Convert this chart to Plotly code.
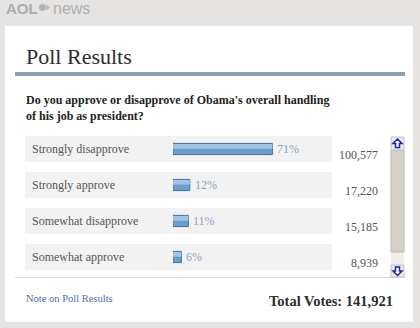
import plotly.graph_objects as go

# Poll data
choices = ["Strongly disapprove", "Strongly approve", "Somewhat disapprove", "Somewhat approve"]
percents = [71, 12, 11, 6]
votes = [100577, 17220, 15185, 8939]
question = "Do you approve or disapprove of Obama's overall handling<br>of his job as president?"

W, H = 420, 328
SERIF = "Liberation Serif, Times New Roman, serif"


def px(x):
    return x / W


def py(y):
    return 1 - y / H


rows = list(range(len(choices)))

fig = go.Figure()

# Main bar, then a lighter band across its upper half for the glossy look
fig.add_trace(go.Bar(
    x=percents, y=rows, orientation="h", width=0.31,
    marker=dict(color="#6a9ecf", line=dict(color="#41709f", width=1)),
    hoverinfo="skip",
))
fig.add_trace(go.Bar(
    x=percents, y=rows, orientation="h", width=0.13, offset=-0.14,
    marker=dict(color="#a2c4e4", line=dict(width=0)),
    hoverinfo="skip",
))

shapes = []
# page background panel
shapes.append(dict(type="rect", xref="paper", yref="paper", x0=px(5), x1=px(413),
                   y0=py(322), y1=py(26), fillcolor="white", line=dict(width=0), layer="below"))
# heading rule
shapes.append(dict(type="rect", xref="paper", yref="paper", x0=px(15), x1=px(405),
                   y0=py(76), y1=py(72), fillcolor="#8a9eb0", line=dict(width=0), layer="below"))
# row backgrounds
for i in rows:
    shapes.append(dict(type="rect", xref="paper", yref="y", x0=px(25), x1=px(332),
                       y0=i - 13 / 36, y1=i + 13 / 36, fillcolor="#f2f2f2",
                       line=dict(width=0), layer="below"))
# footer separator
shapes.append(dict(type="line", xref="paper", yref="paper", x0=px(15), x1=px(405),
                   y0=py(277.5), y1=py(277.5), line=dict(color="#dcdcdc", width=1)))

# scrollbar
sx0, sx1 = 391, 404
shapes.append(dict(type="rect", xref="paper", yref="paper", x0=px(sx0), x1=px(sx1),
                   y0=py(277), y1=py(137), fillcolor="#efeee9", line=dict(width=0)))
shapes.append(dict(type="rect", xref="paper", yref="paper", x0=px(sx0), x1=px(sx1),
                   y0=py(252), y1=py(150), fillcolor="#d4d0c8",
                   line=dict(color="#bdb9b0", width=1)))
for top, bot in [(137, 150), (265, 277)]:
    shapes.append(dict(type="rect", xref="paper", yref="paper", x0=px(sx0), x1=px(sx1),
                       y0=py(bot), y1=py(top), fillcolor="#ece9e2",
                       line=dict(color="#c8c4bb", width=1)))


def arrow_path(cx, cy, up=True):
    s = 1 if up else -1
    pts = [(cx, cy - 4.5 * s), (cx + 4.5, cy), (cx + 2, cy), (cx + 2, cy + 4 * s),
           (cx - 2, cy + 4 * s), (cx - 2, cy), (cx - 4.5, cy)]
    d = "M " + " L ".join(f"{px(x):.5f},{py(y):.5f}" for x, y in pts) + " Z"
    return d


shapes.append(dict(type="path", xref="paper", yref="paper", path=arrow_path(397.5, 143.5, True),
                   fillcolor="white", line=dict(color="#1c22c8", width=1.5)))
shapes.append(dict(type="path", xref="paper", yref="paper", path=arrow_path(397.5, 271, False),
                   fillcolor="white", line=dict(color="#1c22c8", width=1.5)))

# logo mark between the two words
shapes.append(dict(type="circle", xref="paper", yref="paper", x0=px(39), x1=px(46),
                   y0=py(11), y1=py(4), fillcolor="#b4b4b4", line=dict(width=0)))
shapes.append(dict(type="path", xref="paper", yref="paper",
                   path=f"M {px(46.5)},{py(4.5)} L {px(50)},{py(7.5)} L {px(46.5)},{py(10.5)} Z",
                   fillcolor="#b4b4b4", line=dict(width=0)))

ann = []
ann.append(dict(text="<b>AOL</b>", x=px(4), y=py(8), xref="paper", yref="paper",
                xanchor="left", yanchor="middle", showarrow=False,
                font=dict(family="Arial, Liberation Sans, sans-serif", size=15, color="#adadad")))
ann.append(dict(text="news", x=px(51), y=py(8.5), xref="paper", yref="paper",
                xanchor="left", yanchor="middle", showarrow=False,
                font=dict(family="Arial, Liberation Sans, sans-serif", size=16, color="#b0b0b0")))
ann.append(dict(text="Poll Results", x=px(24), y=py(56), xref="paper", yref="paper",
                xanchor="left", yanchor="middle", showarrow=False,
                font=dict(family=SERIF, size=22, color="#2d2d2d")))
ann.append(dict(text=f"<b>{question}</b>", x=px(24), y=py(108), xref="paper", yref="paper",
                xanchor="left", yanchor="middle", showarrow=False, align="left",
                font=dict(family=SERIF, size=12, color="#222222")))

for i, (c, p, v) in enumerate(zip(choices, percents, votes)):
    ann.append(dict(text=c, x=px(30), y=i, xref="paper", yref="y", xanchor="left",
                    yanchor="middle", showarrow=False,
                    font=dict(family=SERIF, size=12, color="#555555")))
    ann.append(dict(text=f"{p}%", x=p, y=i, xref="x", yref="y", xanchor="left",
                    yanchor="middle", xshift=3, showarrow=False,
                    font=dict(family=SERIF, size=12, color="#8ea4bc")))
    ann.append(dict(text=f"{v:,}", x=px(380), y=i, xref="paper", yref="y", xanchor="right",
                    yanchor="middle", yshift=-6, showarrow=False,
                    font=dict(family=SERIF, size=12, color="#555555")))

ann.append(dict(text="Note on Poll Results", x=px(24), y=py(298), xref="paper", yref="paper",
                xanchor="left", yanchor="middle", showarrow=False,
                font=dict(family=SERIF, size=10.5, color="#4a6ea8")))
ann.append(dict(text=f"<b>Total Votes: {sum(votes):,}</b>", x=px(395), y=py(301),
                xref="paper", yref="paper", xanchor="right", yanchor="middle", showarrow=False,
                font=dict(family=SERIF, size=14.5, color="#2d2d2d")))

fig.update_layout(
    width=W, height=H, margin=dict(l=0, r=0, t=0, b=0),
    paper_bgcolor="#e5e4e2", plot_bgcolor="rgba(0,0,0,0)",
    showlegend=False, barmode="overlay",
    xaxis=dict(domain=[px(173), px(173 + 140)], range=[0, 100], visible=False, fixedrange=True),
    yaxis=dict(domain=[py(275), py(131)], range=[3.5, -0.5], visible=False, fixedrange=True),
    shapes=shapes, annotations=ann,
)

fig.write_html("out.html", config={"displayModeBar": False})
